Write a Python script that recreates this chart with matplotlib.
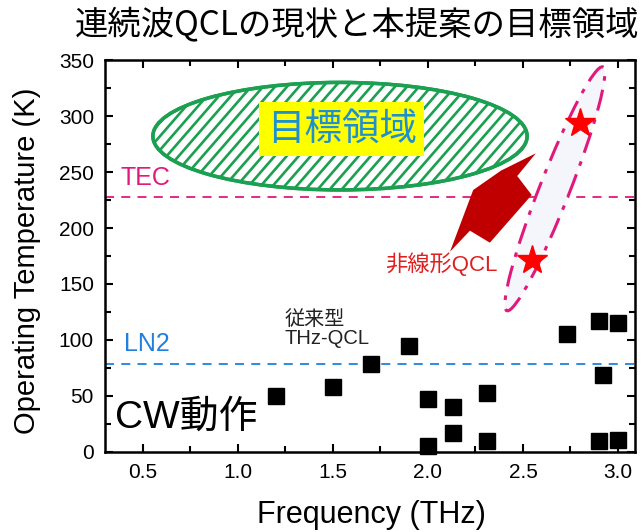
import matplotlib
matplotlib.use('Agg')
import matplotlib.pyplot as plt
import numpy as np
from matplotlib.patches import Ellipse, Polygon
from matplotlib.transforms import IdentityTransform
from matplotlib.ticker import MultipleLocator

plt.rcParams['font.family'] = ['Liberation Sans', 'Noto Sans CJK JP', 'DejaVu Sans']

# ---- data ----
freq_thz = [1.2, 1.5, 1.7, 1.9, 2.0, 2.0, 2.13, 2.13, 2.31, 2.31, 2.73, 2.9, 3.0, 2.92, 2.9, 3.0]
temp_k = [50, 58, 79, 95, 47, 5, 40, 17, 53, 10, 105, 117, 115, 69, 10, 11]

nl_freq = [2.8, 2.55]
nl_temp = [294, 171]

tec_k = 228
ln2_k = 79

x_ticks = [0.5, 1.0, 1.5, 2.0, 2.5, 3.0]
y_ticks = [0, 50, 100, 150, 200, 250, 300, 350]

# annotation shapes (data coords)
target_center = (1.537, 282)
target_size = (1.97, 96)
arrow_pts = [(2.568, 266.7), (2.470, 246.4), (2.546, 229.5), (2.326, 186.9),
             (2.221, 197.6), (2.116, 178.8), (2.238, 233.9), (2.384, 251.2)]
nl_center = (2.668, 235)

pink = '#e0197d'
blue = '#2080e0'
green = '#1aa050'

fig = plt.figure(figsize=(6.43, 5.32), dpi=100)
ax = fig.add_axes([0.1633, 0.1504, 0.8243, 0.7368])
ax.set_xlim(0.3, 3.09)
ax.set_ylim(0, 350)

# reference lines
ax.axhline(tec_k, color=pink, ls=(0, (5, 4)), lw=1.3, zorder=1)
ax.axhline(ln2_k, color=blue, ls=(0, (5, 4)), lw=1.3, zorder=1)

# target ellipse with hatch
ell = Ellipse(target_center, target_size[0], target_size[1], facecolor='white',
              edgecolor=green, lw=2.5, zorder=2)
ax.add_patch(ell)
fig.canvas.draw()
T = ax.transData
cx, cy = T.transform(target_center)
sp = 12.0
for k in np.arange(-30, 31):
    x0 = cx + k * sp
    xs = np.array([x0 - 150, x0 + 150])
    ys = np.array([cy - 150 * 1.15, cy + 150 * 1.15])
    ln, = ax.plot(xs, ys, color=green, lw=1.9, transform=IdentityTransform(), zorder=2.1)
    ln.set_clip_path(ell)
ell2 = Ellipse(target_center, target_size[0], target_size[1], facecolor='none',
               edgecolor=green, lw=2.5, zorder=2.2)
ax.add_patch(ell2)

ax.text(1.547, 288, '目標領域', fontsize=27, color='#1e90d0', ha='center', va='center',
        family=['Noto Sans CJK JP'], zorder=3,
        bbox=dict(boxstyle='square,pad=0.2', facecolor='#ffff00', edgecolor='none'))

# nonlinear QCL ellipse
ncx, ncy = T.transform(nl_center)
nell = Ellipse((ncx, ncy), 262, 30, angle=68.5, transform=IdentityTransform(),
               facecolor='#f4f6fb', edgecolor=pink, lw=2.2, ls=(0, (7, 3, 1.5, 3)), zorder=1.5)
ax.add_patch(nell)

# arrow
ax.add_patch(Polygon(arrow_pts, closed=True, facecolor='#c00000', edgecolor='none', zorder=3))

# data points
ax.plot(freq_thz, temp_k, 's', color='black', ms=12, zorder=4, clip_on=False)
ax.plot(nl_freq, nl_temp, '*', color='#ff0000', ms=22, zorder=4)

# texts
ax.text(0.379, 244.6, 'TEC', fontsize=18, color=pink, ha='left', va='center')
ax.text(0.40, 96.4, 'LN2', fontsize=18, color=blue, ha='left', va='center')
ax.text(0.353, 31, 'CW動作', fontsize=28, color='black', ha='left', va='center')
ax.text(1.247, 118, '従来型', fontsize=14.5, color='#222222', ha='left', va='center',
        family=['Noto Sans CJK JP'])
ax.text(1.247, 101.5, 'THz-QCL', fontsize=14.5, color='#222222', ha='left', va='center')
ax.text(1.774, 168, '非線形QCL', fontsize=16, color='#e02020', ha='left', va='center')

# axes styling
for s in ax.spines.values():
    s.set_linewidth(1.8)
ax.set_xticks(x_ticks)
ax.set_xticklabels([f'{v:.1f}' for v in x_ticks])
ax.set_yticks(y_ticks)
ax.set_yticklabels([str(v) for v in y_ticks])
ax.xaxis.set_minor_locator(MultipleLocator(0.25))
ax.yaxis.set_minor_locator(MultipleLocator(25))
ax.tick_params(which='both', direction='in', top=True, right=True, width=1.5,
               labelsize=15, colors='black')
ax.tick_params(which='major', length=6, pad=8)
ax.tick_params(which='minor', length=4)

fig.text(0.577, 0.032, 'Frequency (THz)', fontsize=22, ha='center', va='center')
fig.text(0.042, 0.51, 'Operating Temperature (K)', fontsize=21, ha='center', va='center',
         rotation=90)
fig.text(0.555, 0.953, '連続波QCLの現状と本提案の目標領域', fontsize=24, ha='center', va='center',
         family=['Noto Sans CJK JP'])

fig.savefig('out.png', dpi=100)
